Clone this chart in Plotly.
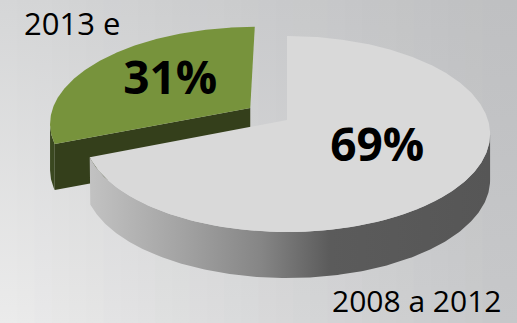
import numpy as np
import plotly.graph_objects as go

# Pie data
labels = ["2008 a 2012", "2013 e"]
values = [69, 31]
top_colors = ["#D9D9D9", "#77933C"]
explode = [0.0, 0.225]          # radial pull-out of each slice (disk units)

# Canvas and projection of the tilted disk
W, H = 517, 323
CX, CY = 287.0, 120.0            # screen position of the disk centre
A, B = 201.0, 96.0               # horizontal / vertical radius
P = 0.143                        # perspective strength (far side smaller)
T = 46.0                         # slab thickness in pixels


def proj(u, v, z=0.0):
    w = 1.0 + P * v
    return CX + A * u / w, CY - B * v / w + T * z


def rim(phis, r=1.0, off=(0.0, 0.0), z=0.0):
    ph = np.radians(phis)
    u = r * np.sin(ph) + off[0]
    v = r * np.cos(ph) + off[1]
    return proj(u, v, z)


fig = go.Figure()

# ---- background: diagonal grey gradient built from vertical strips ----
def hex2rgb(h):
    h = h.lstrip("#")
    return np.array([int(h[i:i + 2], 16) for i in (0, 2, 4)], float)


TL, TR = hex2rgb("#D6D7D8"), hex2rgb("#BEBFC1")
BL, BR = hex2rgb("#ECECEC"), hex2rgb("#C6C7C9")
NS = 30
for i in range(NS):
    x0 = i * W / NS
    x1 = (i + 1) * W / NS + 0.8
    t = (i + 0.5) / NS
    ct = TL + (TR - TL) * t
    cb = BL + (BR - BL) * t
    fig.add_trace(go.Scatter(
        x=[x0, x1, x1, x0, x0], y=[-1, -1, H + 1, H + 1, -1],
        mode="lines", line=dict(width=0), fill="toself",
        fillgradient=dict(type="vertical", start=0, stop=H,
                          colorscale=[[0, "rgb(%d,%d,%d)" % tuple(ct)],
                                      [1, "rgb(%d,%d,%d)" % tuple(cb)]]),
        hoverinfo="skip", showlegend=False))

# ---- slice angles (clockwise from 12 o'clock) ----
total = float(sum(values))
bounds = np.concatenate([[0.0], np.cumsum(values) / total * 360.0])
slices = []
for k in range(len(values)):
    a0, a1 = bounds[k], bounds[k + 1]
    mid = np.radians((a0 + a1) / 2)
    off = (explode[k] * np.sin(mid), explode[k] * np.cos(mid))
    slices.append((a0, a1, off))


def add_poly(xs, ys, color=None, grad=None):
    kw = dict(fillcolor=color) if grad is None else dict(fillgradient=grad)
    fig.add_trace(go.Scatter(x=list(xs) + [xs[0]], y=list(ys) + [ys[0]],
                             mode="lines", line=dict(width=0), fill="toself",
                             hoverinfo="skip", showlegend=False, **kw))


# ---- green slice (behind) ----
a0, a1, off = slices[1]
phis = np.linspace(a0, a1, 200)
xs_top, _ = rim(phis, off=off)
# outer wall from the cut edge to the left silhouette
j = int(np.argmin(xs_top))
wall = phis[:j + 1]
if len(wall) > 1:
    xt, yt = rim(wall, off=off)
    xb, yb = rim(wall, off=off, z=1)
    add_poly(np.r_[xt, xb[::-1]], np.r_[yt, yb[::-1]], "#3A4820")
# radial cut face at the slice's start angle
cx0, cy0 = proj(off[0], off[1])
cx1, cy1 = proj(off[0], off[1], 1)
rx0, ry0 = rim(np.array([a0]), off=off)
rx1, ry1 = rim(np.array([a0]), off=off, z=1)
add_poly([cx0, rx0[0], rx1[0], cx1], [cy0, ry0[0], ry1[0], cy1], "#343F1B")
# top face
xt, yt = rim(phis, off=off)
add_poly(np.r_[cx0, xt], np.r_[cy0, yt], top_colors[1])

# ---- grey slice (front) ----
a0, a1, off = slices[0]
phis = np.linspace(a0, a1, 400)
xt, yt = rim(phis, off=off)
j = int(np.argmax(xt))
wall = phis[j:]
wxt, wyt = rim(wall, off=off)
wxb, wyb = rim(wall, off=off, z=1)
sx = np.r_[wxt, wxb[::-1]]
sy = np.r_[wyt, wyb[::-1]]
add_poly(sx, sy, grad=dict(type="horizontal", start=float(sx.min()), stop=float(sx.max()),
                           colorscale=[[0, "#C2C2C2"], [0.23, "#A3A3A3"], [0.43, "#858585"],
                                       [0.6, "#5B5B5B"], [1, "#565656"]]))
gx0, gy0 = proj(off[0], off[1])
add_poly(np.r_[gx0, xt], np.r_[gy0, yt], top_colors[0])

# ---- percentage labels on the slices ----
for k, (a0, a1, off) in enumerate(slices):
    mid = (a0 + a1) / 2
    lx, ly = rim(np.array([mid]), r=0.52, off=off)
    fig.add_trace(go.Scatter(
        x=[lx[0]], y=[ly[0]], mode="text",
        text=["%d%%" % round(values[k] / total * 100)],
        textposition="middle center",
        textfont=dict(family="Open Sans", size=46, color="#000000", weight="bold"),
        hoverinfo="skip", showlegend=False))

# ---- category labels ----
fig.add_annotation(x=22, y=23, text=labels[1], showarrow=False,
                   xanchor="left", yanchor="middle",
                   font=dict(family="Open Sans", size=31, color="#000000"))
fig.add_annotation(x=502, y=H - 1, text=labels[0], showarrow=False,
                   xanchor="right", yanchor="bottom", borderpad=0,
                   font=dict(family="Open Sans", size=30, color="#000000"))

fig.update_layout(
    width=W, height=H, margin=dict(l=0, r=0, t=0, b=0),
    paper_bgcolor="#D0D1D2", plot_bgcolor="rgba(0,0,0,0)",
    xaxis=dict(range=[0, W], visible=False, fixedrange=True),
    yaxis=dict(range=[H, 0], visible=False, fixedrange=True),
)

fig.write_html("out.html")
